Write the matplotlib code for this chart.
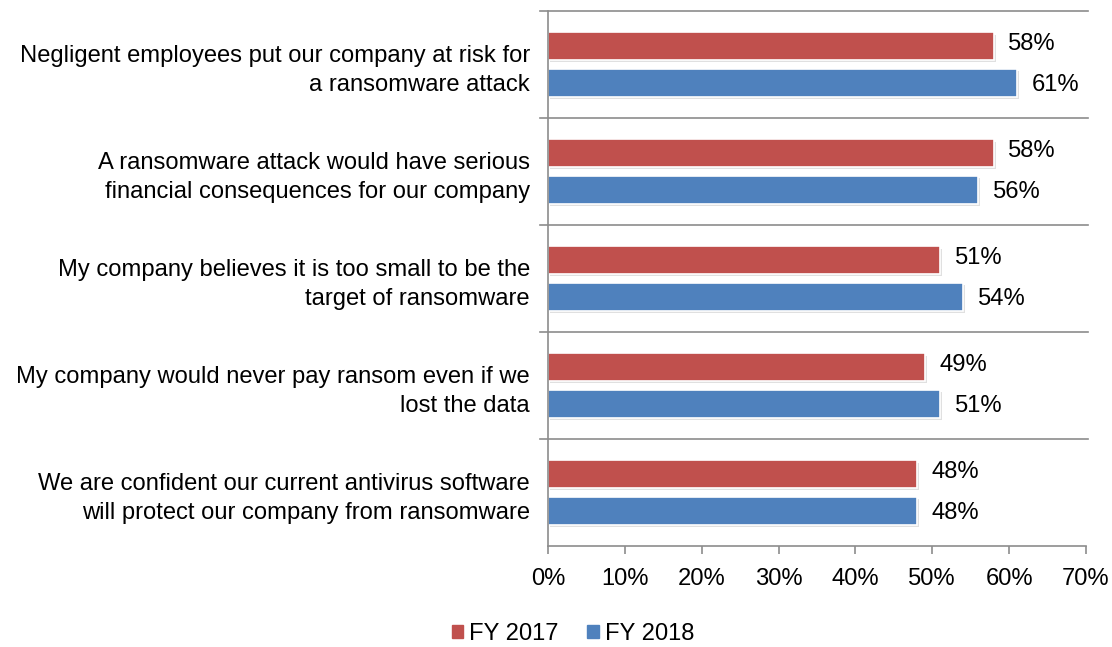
import matplotlib.pyplot as plt
import matplotlib.patheffects as pe
import numpy as np

plt.rcParams['font.family'] = ['Liberation Sans', 'DejaVu Sans']

statements = [
    "Negligent employees put our company at risk for\na ransomware attack",
    "A ransomware attack would have serious\nfinancial consequences for our company",
    "My company believes it is too small to be the\ntarget of ransomware",
    "My company would never pay ransom even if we\nlost the data",
    "We are confident our current antivirus software\nwill protect our company from ransomware",
]
fy2017 = [58, 58, 51, 49, 48]
fy2018 = [61, 56, 54, 51, 48]
xticks = [0, 10, 20, 30, 40, 50, 60, 70]

red = '#C0504D'
blue = '#4F81BD'
axis_gray = '#8C8C8C'
fs = 17.1

fig = plt.figure(figsize=(11.12, 6.47), dpi=100)
ax = fig.add_axes([548 / 1112, 1 - 546 / 647, 538 / 1112, 535 / 647])

y = np.arange(len(statements))
h = 0.255
off = 0.172
shadow = [pe.SimplePatchShadow(offset=(1.5, -1.5), shadow_rgbFace='#bbbbbb', alpha=0.45), pe.Normal()]

b1 = ax.barh(y - off, fy2017, height=h, color=red, edgecolor='white', linewidth=1.2, label='FY 2017')
b2 = ax.barh(y + off, fy2018, height=h, color=blue, edgecolor='white', linewidth=1.2, label='FY 2018')
for bars in (b1, b2):
    for p in bars:
        p.set_path_effects(shadow)

for yi, v in zip(y - off, fy2017):
    ax.text(v + 1.9, yi - 0.02, f"{v}%", va='center', ha='left', fontsize=fs)
for yi, v in zip(y + off, fy2018):
    ax.text(v + 1.9, yi + 0.02, f"{v}%", va='center', ha='left', fontsize=fs)

ax.set_xlim(0, 70)
ax.set_ylim(len(statements) - 0.5, -0.5)
ax.set_xticks(xticks)
ax.set_xticklabels([f"{t}%" for t in xticks], fontsize=fs)

ax.set_yticks(y)
ax.set_yticklabels(statements, fontsize=fs, ha='right', linespacing=1.4)
ax.tick_params(axis='y', length=0, pad=13)
ax.tick_params(axis='x', length=6, color=axis_gray, width=1.2, pad=10)

# horizontal separators between categories
for b in np.arange(-0.5, len(statements) - 0.5, 1.0):
    ax.plot([-1.0, 70.3], [b, b], color=axis_gray, lw=1.2, clip_on=False, zorder=0)

for s in ('top', 'right'):
    ax.spines[s].set_visible(False)
ax.spines['left'].set_color(axis_gray)
ax.spines['left'].set_linewidth(1.2)
ax.spines['bottom'].set_color(axis_gray)
ax.spines['bottom'].set_linewidth(1.2)

h1 = plt.Rectangle((0, 0), 1, 1, color=red)
h2 = plt.Rectangle((0, 0), 1, 1, color=blue)
fig.legend(handles=[h1, h2], labels=['FY 2017', 'FY 2018'], loc='center',
           bbox_to_anchor=(573 / 1112, 1 - 634 / 647), ncol=2, frameon=False,
           fontsize=fs, handlelength=0.5, handleheight=0.5, handletextpad=0.25,
           columnspacing=1.2)

fig.savefig('out.png', dpi=100)
